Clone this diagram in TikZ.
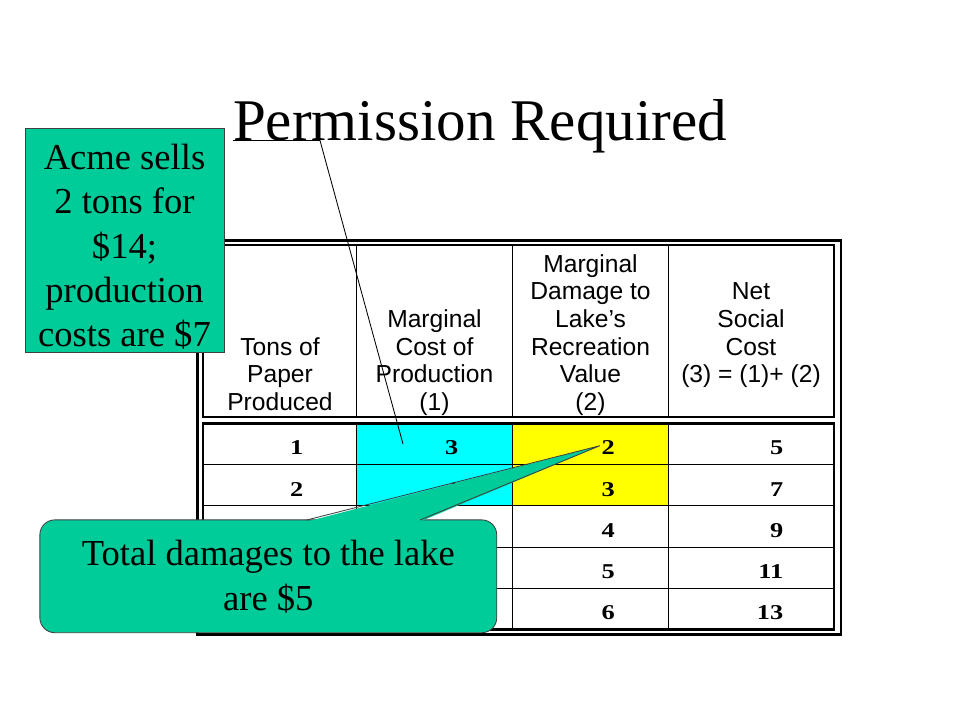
\documentclass[tikz,border=0pt]{standalone}
\usepackage{fontspec}
\setmainfont{Liberation Serif}
\newfontfamily\headfont{Liberation Sans}
\newfontfamily\numfont[FakeStretch=1.25]{Liberation Serif}
\definecolor{callgreen}{RGB}{0,204,153}
\definecolor{cellcyan}{RGB}{0,255,255}
\definecolor{cellyellow}{RGB}{255,255,0}

\begin{document}
\begin{tikzpicture}[x=0.025cm, y=-0.025cm,
  frame/.style={line width=1.8pt},
  grid/.style={line width=0.7pt},
  head/.style={font=\headfont\fontsize{17.5}{19.7}\selectfont, align=center, anchor=base, inner sep=0pt},
  num/.style={font=\numfont\bfseries\fontsize{15}{18}\selectfont, anchor=base east, inner sep=0pt},
  callout/.style={fill=callgreen, draw=black!75, line width=0.6pt},
  calltext/.style={font=\fontsize{26}{31.5}\selectfont, align=center, inner sep=0pt}]
  \useasboundingbox (0,0) rectangle (960,720);

  \node[font=\fontsize{42}{50}\selectfont, anchor=base, inner sep=0pt] (title) at (480,141) {Permission Required};

  % table
  \fill[cellcyan]   (356.3,423.5) rectangle (512.5,505.9);
  \fill[cellyellow] (512.5,423.5) rectangle (668.7,505.9);
  \draw[grid] (356.3,245) -- (356.3,417) (512.5,245) -- (512.5,417) (668.7,245) -- (668.7,417)
              (356.3,423.5) -- (356.3,629.5) (512.5,423.5) -- (512.5,629.5) (668.7,423.5) -- (668.7,629.5)
              (203,464.7) -- (834,464.7) (203,505.9) -- (834,505.9)
              (203,547.1) -- (834,547.1) (203,588.3) -- (834,588.3);
  \draw[frame] (197.5,240.5) rectangle (841,634.7);
  \draw[frame] (203,245) rectangle (834,417);
  \draw[frame] (203,423.5) rectangle (834,629.5);

  % base = baseline of the last line
  \node[head] (h1) at (280,410.7)   {Tons of\\Paper\\Produced};
  \node[head] (h2) at (434.5,410.7) {Marginal\\Cost of\\Production\\(1)};
  \node[head] (h3) at (590.5,410.7) {Marginal\\Damage to\\Lake’s\\Recreation\\Value\\(2)};
  \node[head] (h4) at (751,383)     {Net\\Social\\Cost\\(3) = (1)+ (2)};

  \node[num] (a1) at (303.5,455)   {1};
  \node[num] (a2) at (303.5,496.2) {2};
  \node[num] (b1) at (458.5,455)   {3};
  \node[num] (b2) at (458.5,496.2) {4};
  \node[num] (c1) at (615,455)     {2};
  \node[num] (c2) at (615,496.2)   {3};
  \node[num] (c3) at (615,537.4)   {4};
  \node[num] (c4) at (615,578.6)   {5};
  \node[num] (c5) at (615,619.8)   {6};
  \node[num] (d1) at (783.5,455)   {5};
  \node[num] (d2) at (783.5,496.2) {7};
  \node[num] (d3) at (783.5,537.4) {9};
  \node[num] (d4) at (783.5,578.6) {11};
  \node[num] (d5) at (783.5,619.8) {13};

  % callout: Acme
  \node[callout, minimum width=4.975cm, minimum height=5.6cm] (acme) at (124.5,240.3) {};
  \node[calltext] (acmetxt) at (124.5,247) {Acme sells\\2 tons for\\\$14;\\production\\costs are \$7};
  \coordinate (p0) at (233,140.5);
  \coordinate (p1) at (320,140.5);
  \coordinate (p2) at (403,444);
  \draw[line width=0.6pt] (p0) -- (p1) -- (p2);

  % callout: damages
  \node[callout, rounded corners=0.375cm, minimum width=11.42cm, minimum height=2.82cm,
        calltext, font=\fontsize{26}{32}\selectfont] (dmg) at (268.3,576.3) {Total damages to the lake\\are \$5};
  \coordinate (tip) at (600,445.7);
  \coordinate (q1) at (306.7,520);
  \coordinate (q2) at (420,520);
  \fill[callgreen] ([yshift=-0.04cm]q1) -- (tip) -- ([yshift=-0.04cm]q2) -- cycle;
  \draw[draw=black!75, line width=0.6pt] (q1) -- (tip) -- (q2);
\end{tikzpicture}
\end{document}
